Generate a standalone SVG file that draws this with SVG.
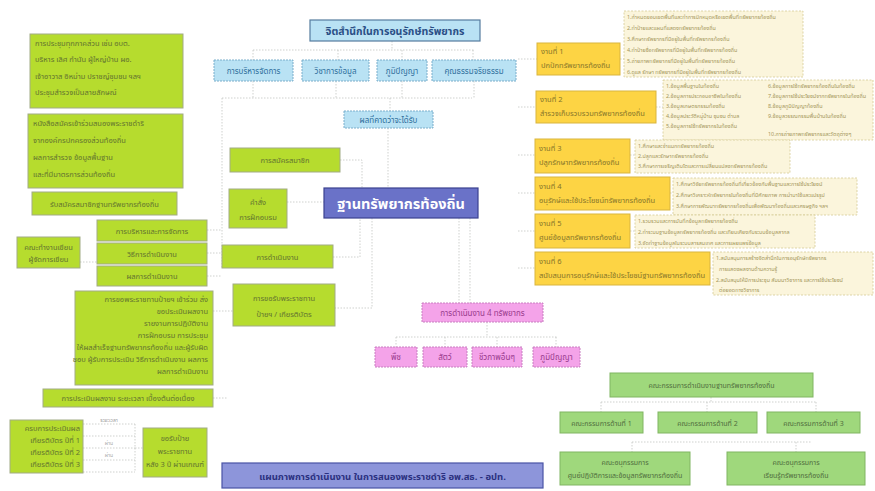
<svg xmlns="http://www.w3.org/2000/svg" width="875" height="491" viewBox="0 0 875 491">
  <style>
    text { font-family: "Noto Sans Thai", "Noto Sans", "DejaVu Sans", sans-serif; }
    .lime { fill: #b6dc2e; stroke: #a2ab86; stroke-width: 1; }
    .lt { font-size: 7.5px; fill: #627330; }
    .yel { fill: #fdd444; stroke: #d9b53e; stroke-width: 1; }
    .yt { font-size: 7.5px; fill: #86742a; }
    .cream { fill: #fbf5dc; stroke: #d6ca96; stroke-width: 0.8; stroke-dasharray: 2 1.5; }
    .ct { font-size: 5.4px; fill: #a4965a; }
    .blue { fill: #b9e2f4; stroke: #7aaecb; stroke-width: 1; stroke-dasharray: 2 1; }
    .bt { font-size: 8px; fill: #2f6f9c; }
    .pink { fill: #f4a3e9; stroke: #c97fc1; stroke-width: 1; stroke-dasharray: 2 1; }
    .pt { font-size: 8px; fill: #983a8c; }
    .sg { fill: #9fd87c; stroke: #80b562; stroke-width: 1; }
    .st { font-size: 7px; fill: #4f6c3c; }
    .conn { fill: none; stroke: #c3c5c2; stroke-width: 0.8; stroke-dasharray: 1.5 1.5; }
    .mid { text-anchor: middle; }
    .end { text-anchor: end; }
  </style>

  <rect width="875" height="491" fill="#ffffff"/>

  <!-- connectors -->
  <g id="connectors">
    <!-- title to the four topics -->
    <path class="conn" d="M392 41 V50 M253 50 H474 M253 50 V60 M338 50 V60 M402 50 V60 M473 50 V60"/>
    <!-- topics down to expected results -->
    <path class="conn" d="M253 81 V98 M336 81 V98 M402 81 V98 M474 81 V98 M222 98 H472 M390 98 V111"/>
    <path class="conn" d="M388 128 V188"/>
    <!-- left trunk -->
    <path class="conn" d="M222 98 V268"/>
    <path class="conn" d="M340 160 H362 V188"/>
    <path class="conn" d="M287 202 H324"/>
    <path class="conn" d="M333 257 H360 V218"/>
    <path class="conn" d="M372 218 V308 H335"/>
    <path class="conn" d="M459 218 V303 M470 218 V303"/>
    <!-- left side details -->
    <path class="conn" d="M207 230 H222 M207 253 H222 M207 276 H222"/>
    <path class="conn" d="M80 262 H97"/>
    <path class="conn" d="M213 311 H233"/>
    <path class="conn" d="M213 398 H228"/>
    <!-- six works -->
    <path class="conn" d="M518 59 H537 M518 107 H536 M518 155 H535 M518 193 H535 M518 231 H535 M518 268 H535"/>
    <path class="conn" d="M620 59 H624 M656 107 H663 M630 155 H635 M670 193 H673 M630 231 H635 M710 268 H713"/>
    <!-- four resources -->
    <path class="conn" d="M487 322 V337 M396 337 H558 M396 337 V347 M445 337 V347 M497 337 V347 M556 337 V347"/>
    <!-- committee -->
    <path class="conn" d="M711 397 V402 M601 402 H816 M601 402 V412 M707 402 V412 M816 402 V412"/>
    <path class="conn" d="M632 442 H812 M632 442 V452 M796 442 V452"/>
    <!-- evaluation table -->
    <path class="conn" d="M83 424 H135 M83 436 H135 M83 448 H135 M83 460 H135 M83 472 H135 M135 424 V472"/>
    <path class="conn" d="M135 448 H143"/>
  </g>

  <!-- top: awareness -->
  <g id="title">
    <rect x="310" y="20" width="170" height="21" fill="#b9e2f4" stroke="#557c9e" stroke-width="1.2"/>
    <text x="395" y="34.5" class="mid" font-size="10.5" font-weight="bold" fill="#2a4f86">จิตสำนึกในการอนุรักษ์ทรัพยากร</text>
  </g>
  <g id="topic-admin">
    <rect x="214" y="60" width="79" height="21" class="blue"/>
    <text x="253.5" y="73.5" class="bt mid">การบริหารจัดการ</text>
  </g>
  <g id="topic-academic">
    <rect x="302" y="60" width="67" height="21" class="blue"/>
    <text x="335.5" y="73.5" class="bt mid">วิชาการข้อมูล</text>
  </g>
  <g id="topic-wisdom">
    <rect x="377" y="60" width="50" height="21" class="blue"/>
    <text x="402" y="73.5" class="bt mid">ภูมิปัญญา</text>
  </g>
  <g id="topic-ethics">
    <rect x="432" y="60" width="84" height="21" class="blue"/>
    <text x="474" y="73.5" class="bt mid">คุณธรรมจริยธรรม</text>
  </g>
  <g id="expected">
    <rect x="344" y="111" width="89" height="17" class="blue"/>
    <text x="388.5" y="122.5" class="bt mid">ผลที่คาดว่าจะได้รับ</text>
  </g>

  <!-- centre -->
  <g id="resource-base">
    <rect x="324" y="188" width="154" height="30" fill="#6a72c8" stroke="#3b418f" stroke-width="1.2"/>
    <text x="401" y="208.5" class="mid" font-size="14.5" font-weight="bold" fill="#ffffff">ฐานทรัพยากรท้องถิ่น</text>
  </g>

  <!-- left upper notes -->
  <g id="meeting">
    <rect x="30" y="34" width="153" height="74" class="lime"/>
    <text x="35" y="46" class="lt">การประชุมทุกภาคส่วน เช่น อบต.</text>
    <text x="35" y="62" class="lt">บริหาร เลิศ กำนัน ผู้ใหญ่บ้าน ผอ.</text>
    <text x="35" y="79" class="lt">เจ้าอาวาส อิหม่าม ปราชญ์ชุมชน ฯลฯ</text>
    <text x="35" y="95" class="lt">ประชุมสำรวจเป็นลายลักษณ์</text>
  </g>
  <g id="letter">
    <rect x="28" y="114" width="155" height="74" class="lime"/>
    <text x="33" y="126" class="lt">หนังสือสมัครเข้าร่วมสนองพระราชดำริ</text>
    <text x="33" y="143" class="lt">จากองค์กรปกครองส่วนท้องถิ่น</text>
    <text x="33" y="160" class="lt">ผลการสำรวจ ข้อมูลพื้นฐาน</text>
    <text x="33" y="177" class="lt">และที่มีมาตรการส่วนท้องถิ่น</text>
  </g>
  <g id="member-call">
    <rect x="32" y="192" width="145" height="23" class="lime"/>
    <text x="104.5" y="206.5" class="lt mid">รับสมัครสมาชิกฐานทรัพยากรท้องถิ่น</text>
  </g>

  <!-- left branches of the centre -->
  <g id="membership">
    <rect x="230" y="148" width="110" height="24" class="lime"/>
    <text x="285" y="163" class="lt mid">การสมัครสมาชิก</text>
  </g>
  <g id="order-training">
    <rect x="229" y="189" width="58" height="39" class="lime"/>
    <text x="258" y="205" class="lt mid">คำสั่ง</text>
    <text x="258" y="220" class="lt mid">การฝึกอบรม</text>
  </g>
  <g id="operation">
    <rect x="222" y="245" width="111" height="23" class="lime"/>
    <text x="277.5" y="259.5" class="lt mid">การดำเนินงาน</text>
  </g>
  <g id="award">
    <rect x="233" y="284" width="102" height="42" class="lime"/>
    <text x="284" y="301" class="lt mid">การขอรับพระราชทาน</text>
    <text x="284" y="317" class="lt mid">ป้ายฯ / เกียรติบัตร</text>
  </g>
  <g id="management">
    <rect x="97" y="220" width="110" height="21" class="lime"/>
    <text x="152" y="233.5" class="lt mid">การบริหารและการจัดการ</text>
  </g>
  <g id="method">
    <rect x="97" y="243" width="110" height="21" class="lime"/>
    <text x="152" y="256.5" class="lt mid">วิธีการดำเนินงาน</text>
  </g>
  <g id="result">
    <rect x="97" y="266" width="110" height="20" class="lime"/>
    <text x="152" y="279" class="lt mid">ผลการดำเนินงาน</text>
  </g>
  <g id="writers">
    <rect x="17" y="237" width="63" height="31" class="lime"/>
    <text x="48.5" y="250" class="lt mid" font-size="6.5">คณะทำงานเขียน</text>
    <text x="48.5" y="262" class="lt mid" font-size="6.5">ผู้จัดการเขียน</text>
  </g>
  <g id="award-detail">
    <rect x="75" y="291" width="138" height="94" class="lime"/>
    <text x="208" y="302" class="lt end" font-size="6.3">การขอพระราชทานป้ายฯ เข้าร่วม ส่ง</text>
    <text x="208" y="314" class="lt end" font-size="6.3">ขอประเมินผลงาน</text>
    <text x="208" y="326" class="lt end" font-size="6.3">รายงานการปฏิบัติงาน</text>
    <text x="208" y="338" class="lt end" font-size="6.3">การฝึกอบรม การประชุม</text>
    <text x="208" y="350" class="lt end" font-size="6.3">ให้ผลสำเร็จฐานทรัพยากรท้องถิ่น และผู้รับผิด</text>
    <text x="208" y="362" class="lt end" font-size="6.3">ชอบ ผู้รับการประเมิน วิธีการดำเนินงาน ผลการ</text>
    <text x="208" y="374" class="lt end" font-size="6.3">ผลการดำเนินงาน</text>
  </g>
  <g id="evaluation">
    <rect x="43" y="389" width="170" height="18" class="lime"/>
    <text x="128" y="400.5" class="lt mid" font-size="6.3">การประเมินผลงาน ระยะเวลา เบื้องต้นต่อเนื่อง</text>
  </g>

  <!-- evaluation years -->
  <g id="years">
    <rect x="10" y="420" width="73" height="53" class="lime"/>
    <text x="80" y="431" class="lt end" font-size="5.6">ครบการประเมินผล</text>
    <text x="80" y="443" class="lt end" font-size="5.6">เกียรติบัตร ปีที่ 1</text>
    <text x="80" y="455" class="lt end" font-size="5.6">เกียรติบัตร ปีที่ 2</text>
    <text x="80" y="467" class="lt end" font-size="5.6">เกียรติบัตร ปีที่ 3</text>
  </g>
  <g id="years-table">
    <text x="109" y="422" class="mid" font-size="5" fill="#9a9a9a">ระยะเวลา</text>
    <text x="109" y="445" class="mid" font-size="5" fill="#a8a8a8">ผ่าน</text>
    <text x="109" y="457" class="mid" font-size="5" fill="#a8a8a8">ผ่าน</text>
  </g>
  <g id="plaque">
    <rect x="143" y="428" width="64" height="49" class="lime"/>
    <text x="175" y="441" class="lt mid" font-size="6.3">ขอรับป้าย</text>
    <text x="175" y="454" class="lt mid" font-size="6.3">พระราชทาน</text>
    <text x="175" y="467" class="lt mid" font-size="6.3">หลัง 3 ปี ผ่านเกณฑ์</text>
  </g>

  <!-- six works -->
  <g id="work-1">
    <rect x="537" y="43" width="83" height="32" class="yel"/>
    <text x="541" y="54" class="yt">งานที่ 1</text>
    <text x="541" y="68" class="yt">ปกปักทรัพยากรท้องถิ่น</text>
  </g>
  <g id="work-1-detail">
    <rect x="624" y="11" width="179" height="66" class="cream"/>
    <text x="627" y="19" class="ct">1.กำหนดขอบเขตพื้นที่และทำการปักหมุดหรือเขตพื้นที่ทรัพยากรท้องถิ่น</text>
    <text x="627" y="30" class="ct">2.ทำป้ายและแผนที่แสดงทรัพยากรท้องถิ่น</text>
    <text x="627" y="41" class="ct">3.ศึกษาทรัพยากรที่มีอยู่ในพื้นที่ทรัพยากรท้องถิ่น</text>
    <text x="627" y="52" class="ct">4.ทำป้ายชื่อทรัพยากรที่มีอยู่ในพื้นที่ทรัพยากรท้องถิ่น</text>
    <text x="627" y="63" class="ct">5.ถ่ายภาพทรัพยากรที่มีอยู่ในพื้นที่ทรัพยากรท้องถิ่น</text>
    <text x="627" y="74" class="ct">6.ดูแล รักษา ทรัพยากรที่มีอยู่ในพื้นที่ทรัพยากรท้องถิ่น</text>
  </g>
  <g id="work-2">
    <rect x="536" y="91" width="120" height="32" class="yel"/>
    <text x="540" y="102" class="yt">งานที่ 2</text>
    <text x="540" y="116" class="yt">สำรวจเก็บรวบรวมทรัพยากรท้องถิ่น</text>
  </g>
  <g id="work-2-detail">
    <rect x="663" y="80" width="210" height="60" class="cream"/>
    <text x="666" y="88" class="ct">1.ข้อมูลพื้นฐานในท้องถิ่น</text>
    <text x="666" y="98" class="ct">2.ข้อมูลการประกอบอาชีพในท้องถิ่น</text>
    <text x="666" y="108" class="ct">3.ข้อมูลเกษตรกรรมท้องถิ่น</text>
    <text x="666" y="118" class="ct">4.ข้อมูลประวัติหมู่บ้าน ชุมชน ตำบล</text>
    <text x="666" y="128" class="ct">5.ข้อมูลการใช้ทรัพยากรในท้องถิ่น</text>
    <text x="768" y="88" class="ct">6.ข้อมูลการใช้ทรัพยากรท้องถิ่นในท้องถิ่น</text>
    <text x="768" y="98" class="ct">7.ข้อมูลการใช้ประโยชน์จากทรัพยากรในท้องถิ่น</text>
    <text x="768" y="108" class="ct">8.ข้อมูลภูมิปัญญาท้องถิ่น</text>
    <text x="768" y="118" class="ct">9.ข้อมูลวรรณกรรมพื้นบ้านในท้องถิ่น</text>
    <text x="768" y="136" class="ct">10.การถ่ายภาพทรัพยากรและวัตถุต่างๆ</text>
  </g>
  <g id="work-3">
    <rect x="535" y="139" width="95" height="34" class="yel"/>
    <text x="539" y="151" class="yt">งานที่ 3</text>
    <text x="539" y="165" class="yt">ปลูกรักษาทรัพยากรท้องถิ่น</text>
  </g>
  <g id="work-3-detail">
    <rect x="635" y="140" width="155" height="33" class="cream"/>
    <text x="638" y="148" class="ct">1.ศึกษาและจำแนกทรัพยากรท้องถิ่น</text>
    <text x="638" y="158" class="ct">2.ปลูกและรักษาทรัพยากรท้องถิ่น</text>
    <text x="638" y="168" class="ct">3.ศึกษาการเจริญเติบโตและการเปลี่ยนแปลงทรัพยากรท้องถิ่น</text>
  </g>
  <g id="work-4">
    <rect x="535" y="177" width="135" height="33" class="yel"/>
    <text x="539" y="189" class="yt">งานที่ 4</text>
    <text x="539" y="203" class="yt">อนุรักษ์และใช้ประโยชน์ทรัพยากรท้องถิ่น</text>
  </g>
  <g id="work-4-detail">
    <rect x="673" y="178" width="184" height="37" class="cream"/>
    <text x="676" y="186" class="ct">1.ศึกษาวิจัยทรัพยากรท้องถิ่นที่เกี่ยวข้องกับพื้นฐานและการใช้ประโยชน์</text>
    <text x="676" y="197" class="ct">2.ศึกษาวิเคราะห์ทรัพยากรในท้องถิ่นที่มีศักยภาพ การนำมาใช้และแปรรูป</text>
    <text x="676" y="208" class="ct">3.ศึกษาการพัฒนาทรัพยากรท้องถิ่นเพื่อพัฒนาท้องถิ่นและเศรษฐกิจ ฯลฯ</text>
  </g>
  <g id="work-5">
    <rect x="535" y="214" width="95" height="34" class="yel"/>
    <text x="539" y="226" class="yt">งานที่ 5</text>
    <text x="539" y="240" class="yt">ศูนย์ข้อมูลทรัพยากรท้องถิ่น</text>
  </g>
  <g id="work-5-detail">
    <rect x="635" y="215" width="180" height="33" class="cream"/>
    <text x="638" y="223" class="ct">1.รวบรวมและการบันทึกข้อมูลทรัพยากรท้องถิ่น</text>
    <text x="638" y="234" class="ct">2.ทำระบบฐานข้อมูลทรัพยากรท้องถิ่น และเทียบเคียงกับระบบข้อมูลสากล</text>
    <text x="638" y="245" class="ct">3.จัดทำฐานข้อมูลในระบบสารสนเทศ และการเผยแพร่ข้อมูล</text>
  </g>
  <g id="work-6">
    <rect x="535" y="252" width="175" height="33" class="yel"/>
    <text x="539" y="264" class="yt">งานที่ 6</text>
    <text x="539" y="278" class="yt">สนับสนุนการอนุรักษ์และใช้ประโยชน์ฐานทรัพยากรท้องถิ่น</text>
  </g>
  <g id="work-6-detail">
    <rect x="713" y="252" width="160" height="43" class="cream"/>
    <text x="716" y="260" class="ct">1.สนับสนุนการสร้างจิตสำนึกในการอนุรักษ์ทรัพยากร</text>
    <text x="719" y="271" class="ct">การแสดงผลงานด้านความรู้</text>
    <text x="716" y="282" class="ct">2.สนับสนุนให้มีการประชุม สัมมนาวิชาการ และการใช้ประโยชน์</text>
    <text x="719" y="292" class="ct">ต่อยอดทางวิชาการ</text>
  </g>

  <!-- four resources -->
  <g id="four-resources">
    <rect x="422" y="303" width="121" height="19" class="pink"/>
    <text x="482.5" y="315.5" class="pt mid">การดำเนินงาน 4 ทรัพยากร</text>
  </g>
  <g id="res-plant">
    <rect x="375" y="347" width="42" height="20" class="pink"/>
    <text x="396" y="360" class="pt mid">พืช</text>
  </g>
  <g id="res-animal">
    <rect x="423" y="347" width="44" height="20" class="pink"/>
    <text x="445" y="360" class="pt mid">สัตว์</text>
  </g>
  <g id="res-bio">
    <rect x="472" y="347" width="50" height="20" class="pink"/>
    <text x="497" y="360" class="pt mid">ชีวภาพอื่นๆ</text>
  </g>
  <g id="res-wisdom">
    <rect x="533" y="347" width="47" height="20" class="pink"/>
    <text x="556.5" y="360" class="pt mid">ภูมิปัญญา</text>
  </g>

  <!-- committee -->
  <g id="committee">
    <rect x="610" y="373" width="203" height="24" class="sg"/>
    <text x="711.5" y="388" class="st mid" font-size="7.5">คณะกรรมการดำเนินงานฐานทรัพยากรท้องถิ่น</text>
  </g>
  <g id="committee-1">
    <rect x="560" y="412" width="83" height="21" class="sg"/>
    <text x="601.5" y="425.5" class="st mid">คณะกรรมการด้านที่ 1</text>
  </g>
  <g id="committee-2">
    <rect x="658" y="412" width="99" height="21" class="sg"/>
    <text x="707.5" y="425.5" class="st mid">คณะกรรมการด้านที่ 2</text>
  </g>
  <g id="committee-3">
    <rect x="767" y="412" width="93" height="21" class="sg"/>
    <text x="813.5" y="425.5" class="st mid">คณะกรรมการด้านที่ 3</text>
  </g>
  <g id="subcommittee-1">
    <rect x="560" y="452" width="130" height="33" class="sg"/>
    <text x="625" y="465" class="st mid" font-size="6.3">คณะอนุกรรมการ</text>
    <text x="625" y="478" class="st mid" font-size="6.3">ศูนย์ปฏิบัติการและข้อมูลทรัพยากรท้องถิ่น</text>
  </g>
  <g id="subcommittee-2">
    <rect x="727" y="452" width="138" height="33" class="sg"/>
    <text x="796" y="465" class="st mid" font-size="6.3">คณะอนุกรรมการ</text>
    <text x="796" y="478" class="st mid" font-size="6.3">เรียนรู้ทรัพยากรท้องถิ่น</text>
  </g>

  <!-- caption banner -->
  <g id="caption">
    <rect x="222" y="463" width="321" height="25" fill="#8d95da" stroke="#4a54a6" stroke-width="1.2"/>
    <text x="382.5" y="479.5" class="mid" font-size="9.5" font-weight="bold" fill="#2b3180">แผนภาพการดำเนินงาน ในการสนองพระราชดำริ อพ.สธ. - อปท.</text>
  </g>
</svg>
